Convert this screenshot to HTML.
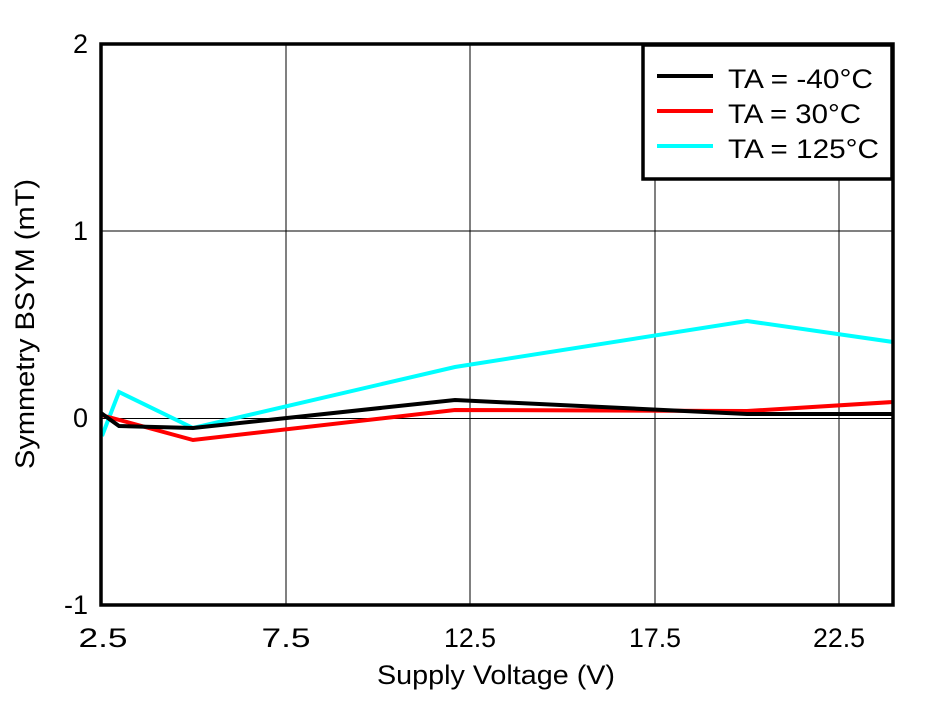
<!DOCTYPE html>
<html><head><style>body{margin:0;background:#fff}</style></head><body>
<svg width="946" height="701" xmlns="http://www.w3.org/2000/svg" font-family="Liberation Sans, Arial, sans-serif">
<rect width="946" height="701" fill="#fff"/>
<g stroke="#000" stroke-width="1">
<line x1="286" y1="44" x2="286" y2="605"/><line x1="470" y1="44" x2="470" y2="605"/>
<line x1="655" y1="44" x2="655" y2="605"/><line x1="839" y1="44" x2="839" y2="605"/>
<line x1="101" y1="231" x2="893" y2="231"/><line x1="101" y1="418.5" x2="893" y2="418.5"/>
</g>
<polyline fill="none" stroke="#00ffff" stroke-width="4" points="102,436 119,392 193,428 455,367 747,321 893,342"/>
<polyline fill="none" stroke="#ff0000" stroke-width="4" points="101,415 193,440 455,410 747,411 893,402"/>
<polyline fill="none" stroke="#000" stroke-width="4" points="101,413 119,426 193,428 455,400 747,414 893,414"/>
<rect x="101" y="44" width="792" height="561" fill="none" stroke="#000" stroke-width="3.5"/>
<rect x="643" y="45" width="249" height="134" fill="#fff" stroke="#000" stroke-width="3.5"/>
<line x1="657" y1="76" x2="713" y2="76" stroke="#000" stroke-width="4"/>
<line x1="657" y1="111" x2="713" y2="111" stroke="#ff0000" stroke-width="4"/>
<line x1="657" y1="146" x2="713" y2="146" stroke="#00ffff" stroke-width="4"/>
<g font-size="27" fill="#000">
<text x="728" y="88" textLength="145" lengthAdjust="spacingAndGlyphs">TA = -40°C</text>
<text x="728" y="123" textLength="133" lengthAdjust="spacingAndGlyphs">TA = 30°C</text>
<text x="728" y="158" textLength="151" lengthAdjust="spacingAndGlyphs">TA = 125°C</text>
<g text-anchor="end"><text x="88" y="53">2</text><text x="88" y="240">1</text><text x="88" y="427">0</text><text x="88" y="614">-1</text></g>
<g text-anchor="middle"><text x="103" y="647" textLength="49" lengthAdjust="spacingAndGlyphs">2.5</text><text x="286" y="647" textLength="49" lengthAdjust="spacingAndGlyphs">7.5</text><text x="470" y="647" textLength="52" lengthAdjust="spacingAndGlyphs">12.5</text><text x="655" y="647" textLength="52" lengthAdjust="spacingAndGlyphs">17.5</text><text x="839" y="647" textLength="52" lengthAdjust="spacingAndGlyphs">22.5</text>
<text x="496" y="684" textLength="238" lengthAdjust="spacingAndGlyphs">Supply Voltage (V)</text>
<text transform="translate(34,324) rotate(-90)" textLength="290" lengthAdjust="spacingAndGlyphs">Symmetry BSYM (mT)</text></g>
</g>
</svg>
</body></html>
